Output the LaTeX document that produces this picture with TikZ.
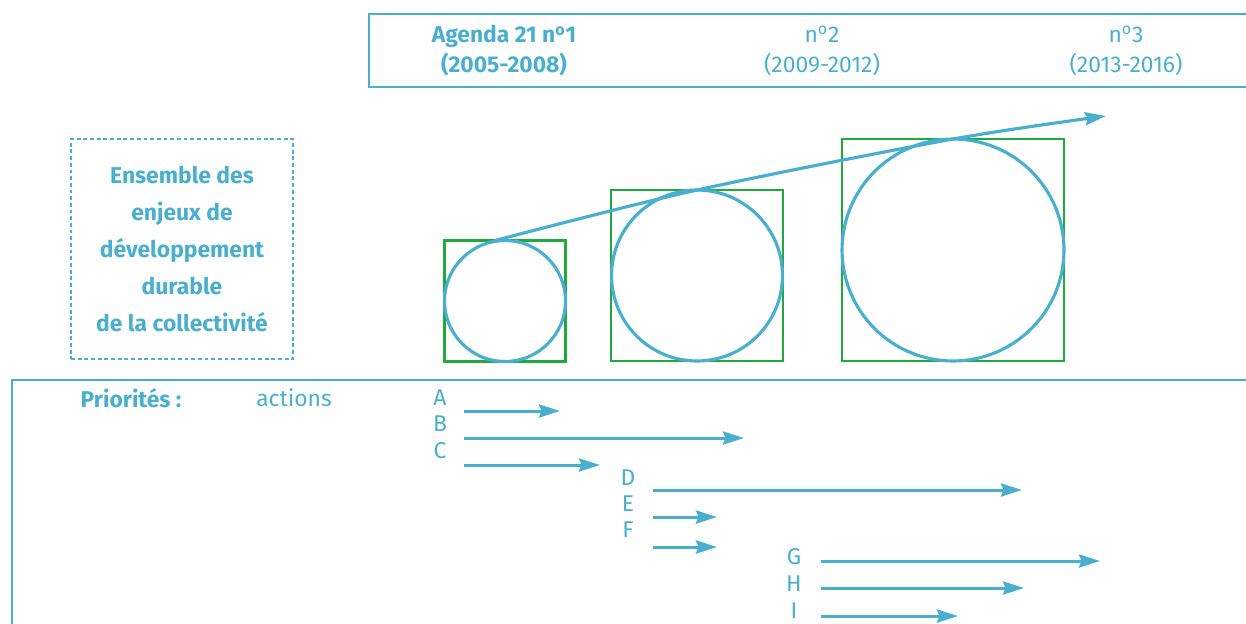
\documentclass[tikz,border=0pt]{standalone}
\usepackage{fontspec}
\setmainfont{Fira Sans}
\usetikzlibrary{arrows.meta}
\definecolor{agblue}{HTML}{4AAFCF}
\definecolor{aggreen}{HTML}{1EAA3C}
\newcommand{\numero}{n\textsuperscript{o}}

\begin{document}
\begin{tikzpicture}[x=0.02cm, y=-0.02cm,
    every node/.style={text=agblue, font=\fontsize{13}{17}\selectfont},
    frame/.style={draw=agblue, line width=0.8pt},
    ring/.style={draw=agblue, line width=1.8pt, circle, inner sep=0pt, outer sep=0pt},
    sq/.style={draw=aggreen, line width=1.3pt, rectangle, inner sep=0pt, outer sep=0pt},
    tip/.style={-{Stealth[length=12pt, width=7.5pt, inset=1.5pt]}},
    act/.style={draw=agblue, line width=1.7pt, tip}]
  \useasboundingbox (0,0) rectangle (1246,623);

  % Header: the three Agenda 21 periods
  \draw[frame] (1250,14) -- (369,14) -- (369,87) -- (1250,87);
  \node[align=center, font=\fontsize{13}{17}\selectfont\bfseries] (ag1) at (504,51) {Agenda 21 \numero1\\(2005-2008)};
  \node[align=center] (ag2) at (822,51) {\numero2\\(2009-2012)};
  \node[align=center] (ag3) at (1126,51) {\numero3\\(2013-2016)};

  % Stakes box
  \node[frame, dashed, dash pattern=on 2.2pt off 1.6pt, minimum width=4.44cm, minimum height=4.4cm,
        align=center, font=\fontsize{13}{21}\selectfont\bfseries] (enjeux) at (182,249)
        {Ensemble des\\enjeux de\\développement\\durable\\de la collectivité};

  % Growing scopes
  \node[sq, minimum size=2.42cm] (s1) at (505,301) {};
  \node[ring, minimum size=2.42cm] (c1) at (505,301) {};
  \node[sq, minimum width=3.44cm, minimum height=3.42cm] (s2) at (697,275.5) {};
  \node[ring, minimum size=3.42cm] (c2) at (697,275.5) {};
  \node[sq, minimum size=4.44cm] (s3) at (953,250) {};
  \node[ring, minimum size=4.44cm] (c3) at (953,250) {};
  \coordinate (trend) at (1106,116);
  \draw[agblue, line width=1.8pt, tip] plot[smooth, tension=0.5] coordinates {([xshift=-0.2cm]c1.north) (c2.north) (c3.north) (trend)};

  % Priorities
  \draw[frame] (1250,380) -- (12,380) -- (12,630);
  \node[font=\fontsize{13}{17}\selectfont\bfseries] (prio) at (131,398) {Priorités :};
  \node (actions) at (294,398) {actions};

  % Actions and their duration
  \foreach \n/\x/\y in {A/440/398, B/440/424, C/440/451, D/628/478, E/628/504, F/628/530, G/794/557, H/794/584, I/794/611}
    \node (l\n) at (\x,\y) {\n};
  \foreach \n/\xa/\xb/\y in {A/464/560/411, B/464/744/438, C/464/600/465, D/653/1022/490, E/653/717/517,
                              F/653/717/547, G/821/1100/561, H/821/1024/588, I/821/958/616} {
    \coordinate (s\n) at (\xa,\y);
    \coordinate (e\n) at (\xb,\y);
    \draw[act] (s\n) -- (e\n);
  }
\end{tikzpicture}
\end{document}
